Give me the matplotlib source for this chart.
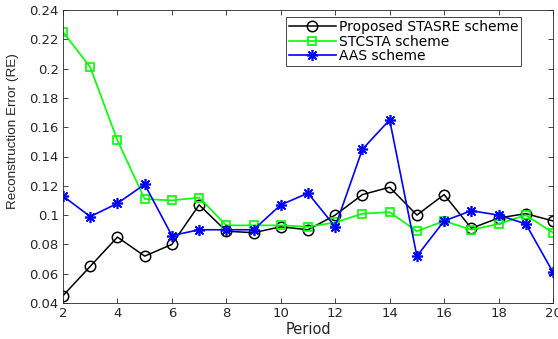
import matplotlib
matplotlib.use("Agg")
import matplotlib.pyplot as plt

plt.rcParams['font.family'] = ['DejaVu Sans']

periods = list(range(2, 21))
proposed = [0.045, 0.065, 0.085, 0.072, 0.080, 0.107, 0.089, 0.088, 0.092, 0.090,
            0.100, 0.114, 0.119, 0.100, 0.114, 0.091, 0.098, 0.101, 0.096]
stcsta = [0.225, 0.201, 0.151, 0.111, 0.110, 0.112, 0.093, 0.093, 0.093, 0.092,
          0.095, 0.101, 0.102, 0.089, 0.096, 0.090, 0.094, 0.100, 0.088]
aas = [0.113, 0.099, 0.108, 0.121, 0.086, 0.090, 0.090, 0.090, 0.107, 0.115,
       0.092, 0.145, 0.165, 0.072, 0.096, 0.103, 0.100, 0.094, 0.061]

labels = ['Proposed STASRE scheme', 'STCSTA scheme', 'AAS scheme']
xticks = [2, 4, 6, 8, 10, 12, 14, 16, 18, 20]
yticks = [0.04, 0.06, 0.08, 0.1, 0.12, 0.14, 0.16, 0.18, 0.2, 0.22, 0.24]
ytick_labels = ['0.04', '0.06', '0.08', '0.1', '0.12', '0.14', '0.16',
                '0.18', '0.2', '0.22', '0.24']

fig = plt.figure(figsize=(5.58, 3.39), dpi=100)
ax = fig.add_axes([63/558, 36/339, 490/558, 293/339])

ax.plot(periods, proposed, color='black', marker='o', markersize=7.5,
        markerfacecolor='none', markeredgewidth=1.1, linewidth=1.1, label=labels[0])
ax.plot(periods, stcsta, color='#00ff00', marker='s', markersize=6,
        markerfacecolor='none', markeredgewidth=1.2, linewidth=1.2, label=labels[1])
ax.plot(periods, aas, color='#0000ff', marker=(8, 2, 0), markersize=8,
        markeredgewidth=1.2, linewidth=1.2, label=labels[2])

ax.set_xlim(2, 20)
ax.set_ylim(0.04, 0.24)
ax.set_xticks(xticks)
ax.set_xticklabels([str(t) for t in xticks])
ax.set_yticks(yticks)
ax.set_yticklabels(ytick_labels)
ax.tick_params(direction='in', top=True, right=True, labelsize=9.5,
               length=3.5, width=0.6, colors='#262626', labelcolor='#262626', pad=3)
for s in ax.spines.values():
    s.set_linewidth(0.6)
    s.set_color('#262626')

ax.set_xlabel('Period', fontsize=10.5, color='#262626', labelpad=1)
ax.set_ylabel('Reconstruction Error (RE)', fontsize=9.7, color='#262626',
              family=['Liberation Sans', 'DejaVu Sans'])
ax.yaxis.set_label_coords(-0.09, 0.587)

leg = ax.legend(loc='upper right', bbox_to_anchor=(0.935, 0.976),
                bbox_transform=ax.transAxes, fontsize=10, frameon=True,
                fancybox=False, edgecolor='#262626', framealpha=1,
                borderpad=0.2, labelspacing=0.05, handlelength=3.4,
                handletextpad=0.2, borderaxespad=0.0)
leg.get_frame().set_linewidth(0.6)

fig.savefig('out.png', dpi=100)
